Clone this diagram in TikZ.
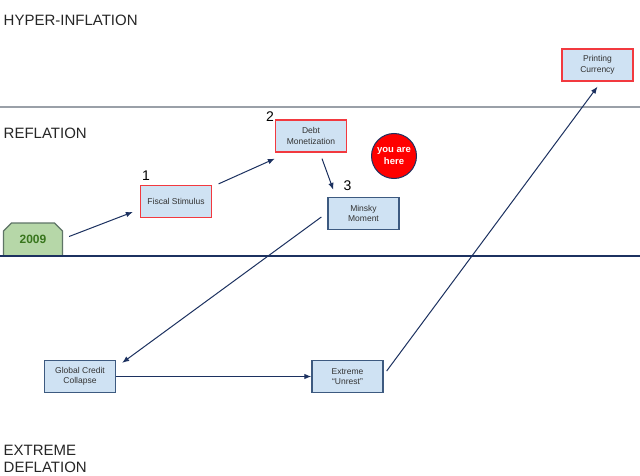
\documentclass[tikz,border=0pt]{standalone}
\usepackage{fontspec}
\setmainfont{Liberation Sans}
\usetikzlibrary{arrows.meta,shapes.misc}
\definecolor{boxfill}{HTML}{CFE2F3}
\definecolor{redline}{HTML}{F2393F}
\definecolor{navyline}{HTML}{1C3160}
\definecolor{boxnavy}{HTML}{3D5A80}
\definecolor{grayline}{HTML}{9AA0A8}
\definecolor{greenfill}{HTML}{B6D7A8}
\definecolor{greentext}{HTML}{38761D}
\definecolor{greenborder}{HTML}{5E7466}
\definecolor{boxtext}{HTML}{333333}
\tikzset{
  stagebox/.style={rectangle, fill=boxfill, line width=1.3pt, minimum width=71pt,
    minimum height=32pt, inner sep=0pt, align=center, text=boxtext,
    font=\fontsize{8.5}{10.5}\selectfont},
  redbox/.style={stagebox, draw=redline},
  bluebox/.style={stagebox, draw=boxnavy},
  heading/.style={anchor=base west, inner sep=0pt, align=left,
    font=\fontsize{15}{17}\selectfont, text=black!85},
  numlabel/.style={inner sep=0pt, font=\fontsize{14}{14}\selectfont},
  flow/.style={draw=navyline, line width=1pt, -{Latex[length=7pt,width=5.5pt]}}
}
\begin{document}
\begin{tikzpicture}[x=1pt,y=-1pt]
\useasboundingbox (0,0) rectangle (640,476);
\fill[white] (0,0) rectangle (640,476);
% level lines
\coordinate (gl) at (0,107);
\coordinate (gr) at (640,107);
\coordinate (nl) at (0,256);
\coordinate (nr) at (640,256);
\draw[grayline, line width=1.3pt] (gl) -- (gr);
% headings
\node[heading] (hyper) at (3.5,26) {HYPER-INFLATION};
\node[heading] (refl) at (3.5,139) {REFLATION};
\node[heading] (defl) at (3.5,472) {EXTREME\\DEFLATION};
% year box
\node[chamfered rectangle, chamfered rectangle corners={north west,north east},
  chamfered rectangle xsep=4pt, chamfered rectangle ysep=4pt,
  minimum width=59pt, minimum height=33pt, inner sep=0pt,
  fill=greenfill, draw=greenborder, line width=1.2pt, text=greentext,
  font=\bfseries\fontsize{12}{12}\selectfont] (y2009) at (33,239.5) {2009};
\draw[navyline, line width=1.3pt] (nl) -- (nr);
% boxes
\node[redbox] (fiscal) at (176,201.5) {Fiscal Stimulus};
\node[redbox] (debt) at (311,136) {Debt\\Monetization};
\node[bluebox] (minsky) at (363.5,213.5) {Minsky\\Moment};
\node[bluebox] (global) at (80,376.5) {Global Credit\\Collapse};
\node[bluebox] (extreme) at (347.5,376.5) {Extreme\\``Unrest''};
\node[redbox] (printing) at (597.5,65) {Printing\\Currency};
% you are here
\node[circle, fill=red, draw=navyline, line width=1pt, minimum size=45pt,
  inner sep=0pt, align=center, text=white,
  font=\bfseries\fontsize{9.5}{11.5}\selectfont] (here) at (394,156) {you are\\here};
% numbers
\node[numlabel] (n1) at (146,176) {1};
\node[numlabel] (n2) at (270,117) {2};
\node[numlabel] (n3) at (347.5,185.5) {3};
% arrows
\draw[flow] ([shift={(6,-3)}]y2009.east) -- ([shift={(-7,10.5)}]fiscal.west);
\draw[flow] ([shift={(6.5,-1)}]fiscal.north east) -- ([shift={(0,6)}]debt.south west);
\draw[flow] ([shift={(11,6)}]debt.south) -- ([shift={(6,-7)}]minsky.north west);
\draw[flow] ([shift={(-6,3.5)}]minsky.west) -- ([shift={(6,3)}]global.north east);
\draw[flow] (global.east) -- (extreme.west);
\draw[flow] ([shift={(3,-5.5)}]extreme.east) -- ([shift={(0,5)}]printing.south);
\end{tikzpicture}
\end{document}
